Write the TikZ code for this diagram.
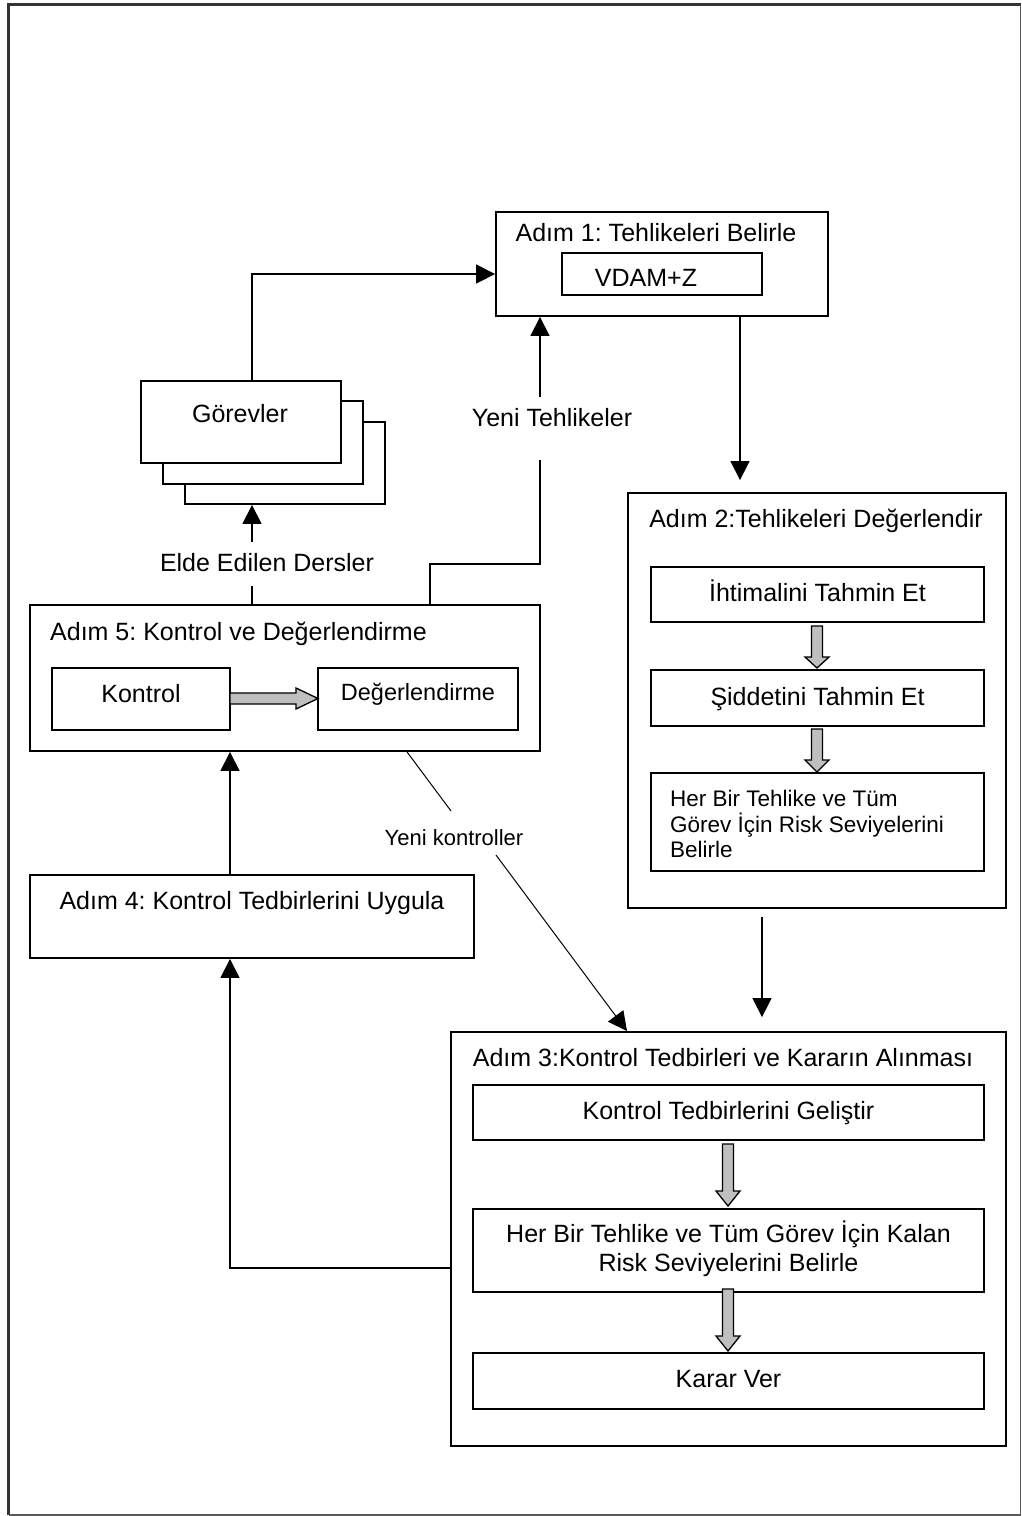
\documentclass[tikz,border=0pt]{standalone}
\usepackage{fontspec}
\setmainfont{Liberation Sans}
\frenchspacing
\usetikzlibrary{arrows.meta}
\tikzset{
  kutu/.style={draw, line width=1.8pt, fill=white, inner sep=0pt},
  yazi/.style={inner sep=0pt, anchor=base, font=\fontsize{25}{29}\selectfont},
  ok/.style={line width=1.3pt, -{Triangle[length=19pt,width=19pt]}},
  pics/griok/.style n args={3}{code={
    \draw[line width=1.3pt, fill=gray!50] (-5.5,0) -- (5.5,0) -- (5.5,#1-#2) -- (#3,#1-#2) -- (0,#1) -- (-#3,#1-#2) -- (-5.5,#1-#2) -- cycle;}}
}
\begin{document}
\begin{tikzpicture}[x=1pt,y=-1pt]
\useasboundingbox (0,0) rectangle (1022,1516);
\draw[line width=3pt, black!80] (8.5,1515) -- (8.5,4.5) -- (1020.5,4.5);
\draw[line width=1.5pt, black!65] (8.5,1515) -- (1020.5,1515) -- (1020.5,4.5);

\node[kutu, minimum width=332pt, minimum height=104pt] (adimbir) at (662,264) {};
\node[kutu, minimum width=200pt, minimum height=42pt] (vdam) at (662,274) {};
\node[yazi] (adimbirbaslik) at (656,241) {Adım 1: Tehlikeleri Belirle};
\node[yazi] (vdamyazi) at (646,286) {VDAM+Z};

\node[kutu, minimum width=200pt, minimum height=82pt] (gorev3) at (285,463) {};
\node[kutu, minimum width=200pt, minimum height=83pt] (gorev2) at (263,442.5) {};
\node[kutu, minimum width=200pt, minimum height=82pt] (gorev1) at (241,422) {};
\node[yazi] (gorevyazi) at (240,422) {Görevler};

\node[kutu, minimum width=378pt, minimum height=415pt] (adimiki) at (817,700.5) {};
\node[yazi] (adimikibaslik) at (816,527) {Adım 2:Tehlikeleri Değerlendir};
\node[kutu, minimum width=333pt, minimum height=55pt] (ihtimal) at (817.5,594.5) {};
\node[yazi] (ihtimalyazi) at (817.5,601.5) {İhtimalini Tahmin Et};
\node[kutu, minimum width=333pt, minimum height=56pt] (siddet) at (817.5,698) {};
\node[yazi] (siddetyazi) at (817.5,705) {Şiddetini Tahmin Et};
\node[kutu, minimum width=333pt, minimum height=98pt] (riskseviye) at (817.5,822) {};
\node[yazi, anchor=base west, font=\fontsize{22.5}{26}\selectfont] (risk1) at (670,806) {Her Bir Tehlike ve Tüm};
\node[yazi, anchor=base west, font=\fontsize{22.5}{26}\selectfont] (risk2) at (670,832) {Görev İçin Risk Seviyelerini};
\node[yazi, anchor=base west, font=\fontsize{22.5}{26}\selectfont] (risk3) at (670,857) {Belirle};
\pic at (817,626) {griok={42}{11}{12}};
\pic at (817,729) {griok={43}{12}{12}};

\node[kutu, minimum width=510pt, minimum height=146pt] (adimbes) at (285,678) {};
\node[yazi, anchor=base west] (adimbesbaslik) at (50,640) {Adım 5: Kontrol ve Değerlendirme};
\node[kutu, minimum width=178pt, minimum height=62pt] (kontrol) at (141,699) {};
\node[yazi] (kontrolyazi) at (141,702) {Kontrol};
\node[kutu, minimum width=200pt, minimum height=62pt] (degerlendirme) at (418,699) {};
\node[yazi, font=\fontsize{23.5}{27}\selectfont] (degerlendirmeyazi) at (418,700) {Değerlendirme};
\pic[rotate=90] at (230,698.5) {griok={88}{22}{10.5}};

\node[kutu, minimum width=444pt, minimum height=83pt] (adimdort) at (252,916.5) {};
\node[yazi] (adimdortbaslik) at (252,909) {Adım 4: Kontrol Tedbirlerini Uygula};

\node[kutu, minimum width=555pt, minimum height=414pt] (adimuc) at (728.5,1239) {};
\node[yazi] (adimucbaslik) at (723,1066) {Adım 3:Kontrol Tedbirleri ve Kararın Alınması};
\node[kutu, minimum width=511pt, minimum height=55pt] (gelistir) at (728.5,1112.5) {};
\node[yazi] (gelistiryazi) at (728.5,1119) {Kontrol Tedbirlerini Geliştir};
\node[kutu, minimum width=511pt, minimum height=83pt] (kalanrisk) at (728.5,1250.5) {};
\node[yazi] (kalanrisk1) at (728.5,1242) {Her Bir Tehlike ve Tüm Görev İçin Kalan};
\node[yazi] (kalanrisk2) at (728.5,1271) {Risk Seviyelerini Belirle};
\node[kutu, minimum width=511pt, minimum height=56pt] (karar) at (728.5,1381) {};
\node[yazi] (kararyazi) at (728.5,1387) {Karar Ver};
\pic at (728,1144) {griok={62}{15}{12}};
\pic at (728,1289) {griok={62}{15}{12}};

\node[yazi] (yenitehlike) at (552,426) {Yeni Tehlikeler};
\node[yazi] (eldeedilen) at (267,571) {Elde Edilen Dersler};
\node[yazi, font=\fontsize{22}{26}\selectfont] (yenikontrol) at (454,845) {Yeni kontroller};
\coordinate (yt1) at (540,460);
\coordinate (yt2) at (540,397);
\coordinate (ed1) at (252,586);
\coordinate (ed2) at (252,542);
\coordinate (yk1) at (451,811);
\coordinate (yk2) at (496,855);

\draw[ok] (gorev1.north -| 252,0) |- (adimbir.west |- 0,274);
\draw[ok, shorten >=12pt] (adimbir.south -| 740,0) -- (adimiki.north -| 740,0);
\draw[ok, shorten <=8pt, shorten >=14pt] (adimiki.south -| 762,0) -- (adimuc.north -| 762,0);
\draw[line width=1.3pt] (adimbes.north -| 430,0) |- (540,564) -- (yt1);
\draw[ok] (yt2) -- (adimbir.south -| 540,0);
\draw[line width=1.3pt] (adimbes.north -| 252,0) -- (ed1);
\draw[ok] (ed2) -- (gorev3.south -| 252,0);
\draw[ok] (adimdort.north -| 230,0) -- (adimbes.south -| 230,0);
\draw[ok] (adimuc.west |- 0,1268) -| (adimdort.south -| 230,0);
\draw[line width=1pt] (adimbes.south -| 407,0) -- (yk1);
\draw[ok, line width=1pt] (yk2) -- (adimuc.north -| 627,0);
\end{tikzpicture}
\end{document}
